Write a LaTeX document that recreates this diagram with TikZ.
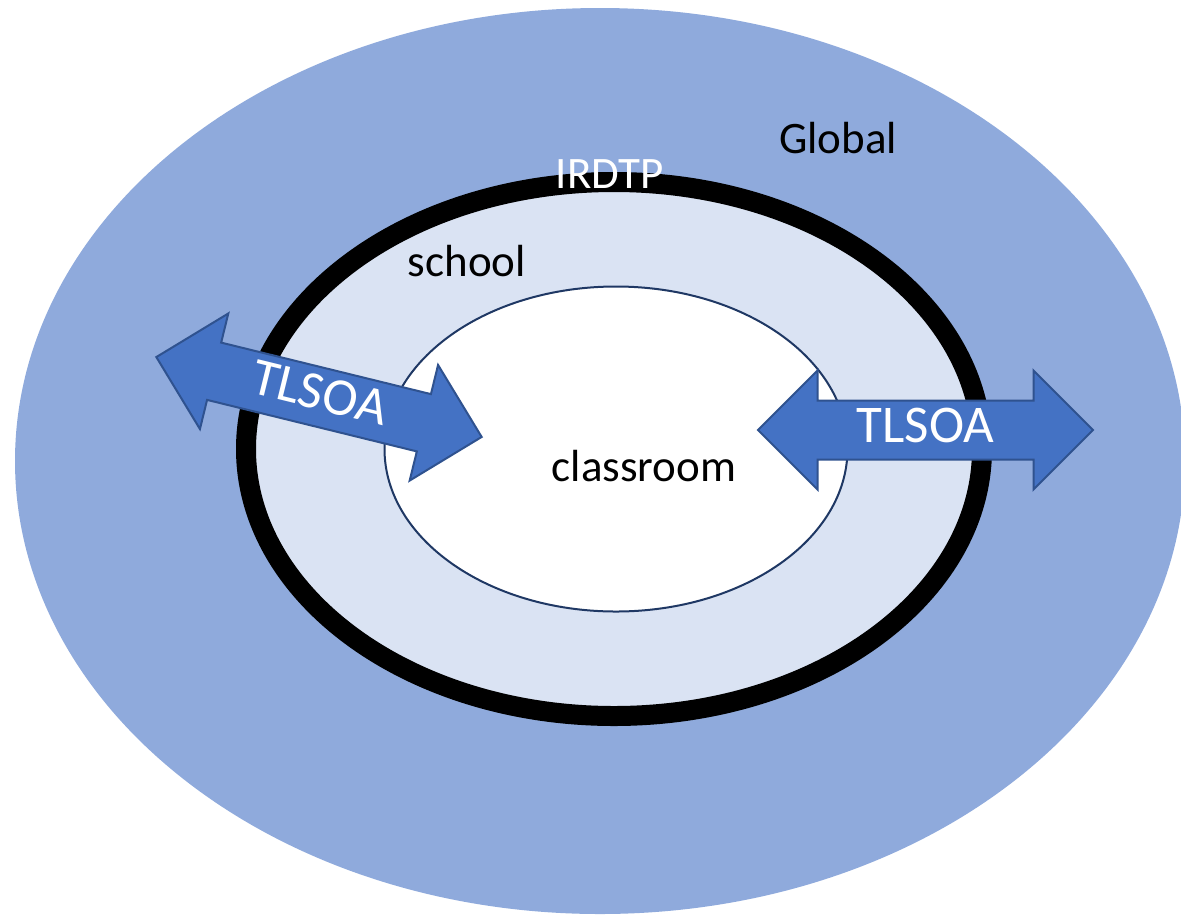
\documentclass[tikz,border=0pt]{standalone}
\usepackage{fontspec}
\setmainfont{Carlito}
\usetikzlibrary{positioning, shapes}

\definecolor{globalblue}{HTML}{8FAADC}
\definecolor{schoolblue}{HTML}{DAE3F3}
\definecolor{arrowblue}{HTML}{4472C4}
\definecolor{arrowline}{HTML}{2F528F}
\definecolor{roomline}{HTML}{1F3864}

\tikzset{
  zone/.style={ellipse, inner sep=0pt},
  zonetext/.style={anchor=base, inner sep=0pt, font=\fontsize{22.5}{27}\selectfont},
  flow/.style={double arrow, draw=arrowline, line width=1pt, fill=arrowblue,
    double arrow head extend=15pt, double arrow tip angle=90,
    double arrow head indent=0pt, minimum height=167.5pt, inner sep=0pt,
    text height=20.5pt, text depth=8pt, text=white,
    font=\fontsize{26.5}{30}\selectfont}
}

\begin{document}
\begin{tikzpicture}[x=0.5pt, y=-0.5pt]
	\useasboundingbox (0,0) rectangle (1181,916);
	\clip (0,0) rectangle (1181,916);

	\node[zone, fill=globalblue, minimum width=1170pt*0.5, minimum height=906pt*0.5] (global) at (600,461) {};
	\node[zone, fill=schoolblue, draw=black, line width=10pt, minimum width=368pt, minimum height=267pt] (school) at (614,449) {};
	\node[zone, fill=white, draw=roomline, line width=1pt, minimum width=231.5pt, minimum height=162.5pt] (classroom) at (616,449) {};

	\node[zonetext] (globaltxt) at (838,153) {Global};
	\node[zonetext, text=white] (ringtxt) at (610,188) {IRDTP};
	\node[zonetext] (schooltxt) at (467,276) {school};
	\node[zonetext] (roomtxt) at (644,481) {classroom};

	\node[flow, rotate=-13.8] (flowleft) at (319,397) {TLSOA};
	\node[flow] (flowright) at (925.5,430) {TLSOA};
\end{tikzpicture}
\end{document}
